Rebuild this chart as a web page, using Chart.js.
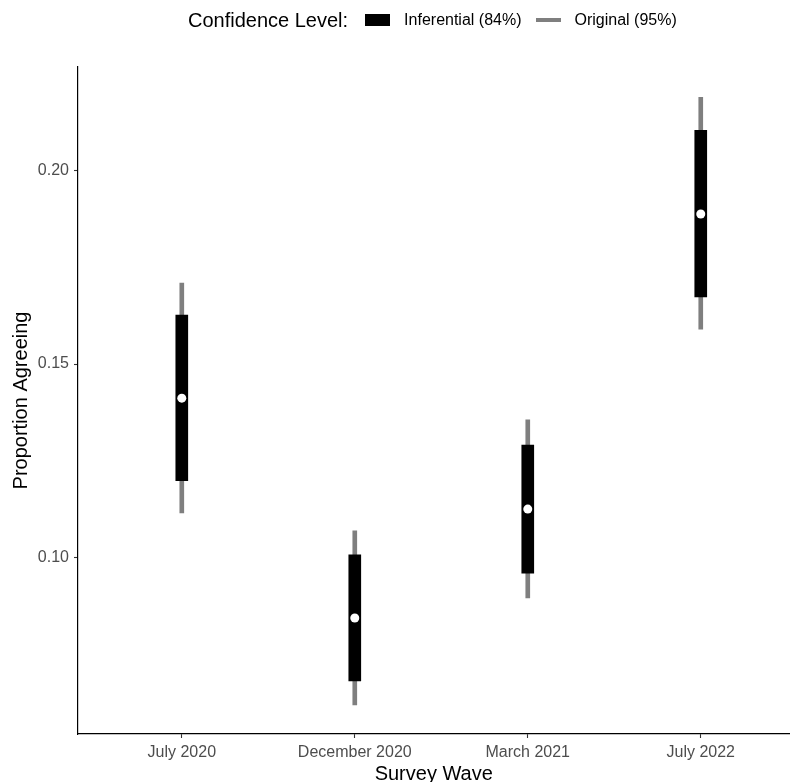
<!DOCTYPE html>
<html>
<head>
<meta charset="utf-8">
<script src="https://cdn.jsdelivr.net/npm/chart.js@4/dist/chart.umd.min.js"></script>
<style>
  html, body { margin: 0; padding: 0; background: #fff; overflow: hidden; width: 790px; height: 782px; }
  #wrap { position: relative; width: 790px; height: 782px; overflow: hidden; }
  #legend {
    position: absolute; left: 188px; top: 8px; height: 24px;
    display: flex; align-items: center;
    font-family: "Liberation Sans", Arial, Helvetica, sans-serif; color: #000;
  }
  #legend .title { font-size: 20px; margin-right: 17px; }
  #legend .key { display: inline-block; width: 25px; margin-right: 14px; }
  #legend .label { font-size: 16px; margin-right: 14px; }
</style>
</head>
<body>
<div id="wrap">
  <!-- a little wider than the page so the x axis runs off the right edge -->
  <canvas id="waveChart" width="794" height="800"></canvas>
  <div id="legend"></div>
</div>
<script>
// survey waves and estimated proportions
const waves = ["July 2020", "December 2020", "March 2021", "July 2022"];
const estimate = [0.1412, 0.0845, 0.1126, 0.1887];

// 84% inferential intervals
const infLow = [0.1199, 0.0683, 0.0961, 0.1673];
const infHigh = [0.1626, 0.1008, 0.1291, 0.2103];

// 95% original intervals
const origLow = [0.1116, 0.0621, 0.0897, 0.1590];
const origHigh = [0.1709, 0.1070, 0.1356, 0.2188];

const yTicks = [0.10, 0.15, 0.20];
const legendTitle = "Confidence Level:";
const levelNames = ["Inferential (84%)", "Original (95%)"];
const levelColors = ["#000000", "#7f7f7f"];

const font = "'Liberation Sans', Arial, Helvetica, sans-serif";

// legend row above the plot
const legend = document.getElementById("legend");
legend.innerHTML = `<span class="title">${legendTitle}</span>` +
    levelNames.map((name, i) => {
        const h = i === 0 ? 12 : 4;
        return `<span class="key" style="height:${h}px;background:${levelColors[i]}"></span>` +
            `<span class="label">${name}</span>`;
    }).join("");

const toRange = (lo, hi) => lo.map((v, i) => ({ x: i + 1, y: [v, hi[i]] }));

const ctx = document.getElementById("waveChart").getContext("2d");
new Chart(ctx, {
    type: "bar",
    data: {
        datasets: [
            {
                type: "line",
                label: "Estimate",
                data: estimate.map((v, i) => ({ x: i + 1, y: v })),
                showLine: false,
                pointRadius: 4.5,
                pointBackgroundColor: "#ffffff",
                pointBorderWidth: 0,
                order: 0
            },
            {
                label: levelNames[0],
                data: toRange(infLow, infHigh),
                backgroundColor: levelColors[0],
                grouped: false,
                barThickness: 12,
                maxBarThickness: 12,
                borderWidth: 0,
                order: 1
            },
            {
                label: levelNames[1],
                data: toRange(origLow, origHigh),
                backgroundColor: levelColors[1],
                grouped: false,
                barThickness: 4,
                maxBarThickness: 4,
                borderWidth: 0,
                order: 2
            }
        ]
    },
    options: {
        responsive: false,
        animation: false,
        layout: { padding: { top: 67, right: 0, left: 0, bottom: 0 } },
        plugins: { legend: { display: false }, tooltip: { enabled: false } },
        scales: {
            x: {
                type: "linear",
                min: 0.4,
                max: 4.513,
                offset: false,
                afterFit: s => { s.height = 66; },
                afterBuildTicks: s => { s.ticks = waves.map((w, i) => ({ value: i + 1 })); },
                ticks: {
                    callback: v => waves[v - 1],
                    color: "#4d4d4d",
                    font: { family: font, size: 16 },
                    padding: 5,
                    maxRotation: 0,
                    autoSkip: false
                },
                grid: { offset: false, drawOnChartArea: false, drawTicks: true, tickLength: 4, color: "#333333", tickWidth: 1.1 },
                border: { display: true, color: "#000000", width: 1.2 },
                title: {
                    display: true,
                    text: "Survey Wave",
                    color: "#000000",
                    font: { family: font, size: 20 },
                    padding: { top: 0, bottom: 14 }
                }
            },
            y: {
                min: 0.0546,
                max: 0.2266,
                afterFit: s => { s.width = 78; },
                afterBuildTicks: s => { s.ticks = yTicks.map(v => ({ value: v })); },
                ticks: {
                    callback: v => v.toFixed(2),
                    color: "#4d4d4d",
                    font: { family: font, size: 16 },
                    padding: 5
                },
                grid: { drawOnChartArea: false, drawTicks: true, tickLength: 4, color: "#333333", tickWidth: 1.1 },
                border: { display: true, color: "#000000", width: 1.2 },
                title: {
                    display: true,
                    text: "Proportion Agreeing",
                    color: "#000000",
                    font: { family: font, size: 20 },
                    padding: { top: 9, bottom: 0 }
                }
            }
        }
    }
});
</script>
</body>
</html>
